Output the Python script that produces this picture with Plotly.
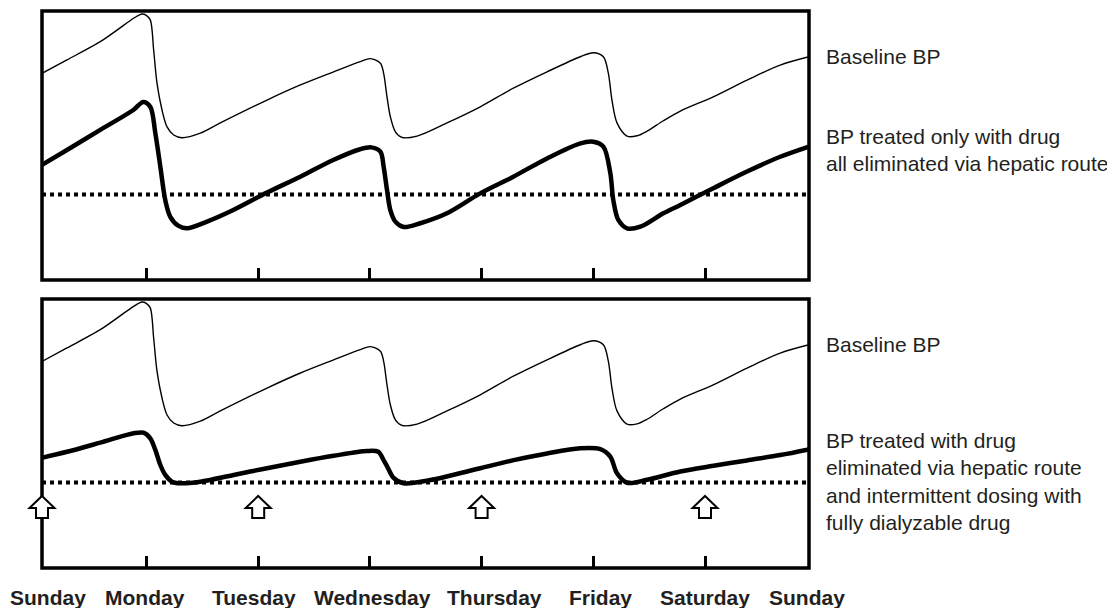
import plotly.graph_objects as go

# ---------------- data ----------------
# x in days: 1 = Monday ... 6 = Saturday; window starts/ends on Sunday
X_START = 0.0645
X_END = 6.931

# Baseline BP (same curve in both panels)
base_x = [0.0645, 0.288, 0.586, 0.736, 0.885, 0.960, 0.998, 1.034, 1.064, 1.094,
          1.139, 1.184, 1.243, 1.318, 1.482, 1.661, 2.079, 2.378, 2.675, 2.914,
          3.004, 3.094, 3.123, 3.153, 3.183, 3.228, 3.287, 3.422, 3.690, 3.988,
          4.284, 4.586, 4.884, 5.000, 5.090, 5.134, 5.167, 5.212, 5.302, 5.391,
          5.481, 5.627, 5.779, 6.074, 6.376, 6.673, 6.931]
base_y = [76.8, 81.8, 88.6, 92.9, 97.3, 98.9, 98.4, 96.7, 85.5, 73.2,
          63.2, 56.9, 53.9, 52.9, 54.6, 58.4, 66.9, 72.5, 77.4, 81.2,
          82.3, 80.6, 76.8, 68.1, 60.7, 55.1, 53.0, 53.5, 58.4, 64.4,
          71.3, 77.4, 83.0, 84.5, 83.0, 77.0, 66.9, 58.4, 53.5, 53.6,
          55.3, 59.2, 62.8, 68.1, 74.3, 79.9, 83.0]

# BP treated only with hepatically eliminated drug (top panel)
hep_x = [0.0645, 0.288, 0.586, 0.882, 0.971, 1.034, 1.079, 1.124, 1.168, 1.213,
         1.287, 1.363, 1.542, 1.777, 2.079, 2.377, 2.672, 2.912, 3.013, 3.094,
         3.123, 3.153, 3.183, 3.228, 3.302, 3.451, 3.690, 3.988, 4.284, 4.586,
         4.884, 5.000, 5.090, 5.152, 5.179, 5.224, 5.302, 5.421, 5.627, 5.779,
         6.074, 6.376, 6.673, 6.931]
hep_y = [42.8, 48.3, 55.8, 63.2, 66.2, 64.4, 54.6, 42.1, 29.7, 23.5,
         20.1, 19.2, 21.7, 26.0, 32.5, 38.4, 44.6, 48.6, 49.3, 47.7,
         42.1, 33.5, 26.0, 21.7, 19.7, 21.1, 24.8, 32.2, 38.4, 45.2,
         50.8, 51.4, 49.6, 39.8, 29.7, 22.3, 19.2, 19.8, 24.8, 27.9,
         34.1, 40.3, 45.8, 49.6]

# BP treated with hepatic drug + intermittent dialyzable drug (bottom panel)
dial_x = [0.0645, 0.288, 0.586, 0.885, 0.974, 1.034, 1.079, 1.124, 1.168, 1.228,
          1.303, 1.482, 1.780, 2.079, 2.377, 2.675, 2.974, 3.075, 3.123, 3.153,
          3.212, 3.302, 3.541, 3.988, 4.287, 4.586, 4.884, 5.063, 5.152, 5.212,
          5.302, 5.481, 5.779, 6.077, 6.376, 6.673, 6.931]
dial_y = [41.0, 43.2, 46.6, 50.1, 50.3, 48.2, 43.9, 38.3, 34.6, 32.1,
          31.5, 32.1, 34.6, 37.1, 39.5, 41.7, 43.5, 43.2, 40.1, 37.9,
          33.5, 31.5, 32.7, 37.1, 40.1, 42.6, 44.5, 44.2, 41.4, 35.2,
          31.7, 32.8, 35.9, 38.0, 40.0, 42.0, 44.1]

TARGET_BP = 31.8

# dosing of the dialyzable drug (Sunday at window start, Tue, Thu, Sat)
dose_days = [X_START, 2.0, 4.0, 6.0]

tick_days = [1, 2, 3, 4, 5, 6]
day_labels = ["Sunday", "Monday", "Tuesday", "Wednesday", "Thursday",
              "Friday", "Saturday", "Sunday"]
day_label_pos = [0.122, 0.985, 1.963, 3.027, 4.113, 5.066, 6.004, 6.91]

right_labels_top = ["Baseline BP",
                    "BP treated only with drug<br>all eliminated via hepatic route"]
right_labels_bottom = ["Baseline BP",
                       "BP treated with drug<br>eliminated via hepatic route<br>"
                       "and intermittent dosing with<br>fully dialyzable drug"]

# ---------------- figure ----------------
INK = "#000000"
TEXT = "#231f20"
FONT = "Liberation Sans, Arial, sans-serif"

fig = go.Figure()


def add_panel(xaxis, yaxis, treated_x, treated_y):
    fig.add_trace(go.Scatter(x=base_x, y=base_y, xaxis=xaxis, yaxis=yaxis,
                             mode="lines", line=dict(color=INK, width=1.4,
                                                     shape="spline", smoothing=0.9),
                             hoverinfo="skip", showlegend=False))
    fig.add_trace(go.Scatter(x=treated_x, y=treated_y, xaxis=xaxis, yaxis=yaxis,
                             mode="lines", line=dict(color=INK, width=4.5,
                                                     shape="spline", smoothing=0.9),
                             hoverinfo="skip", showlegend=False))
    fig.add_trace(go.Scatter(x=[X_START, X_END], y=[TARGET_BP, TARGET_BP],
                             xaxis=xaxis, yaxis=yaxis, mode="lines",
                             line=dict(color=INK, width=4, dash="dot"),
                             hoverinfo="skip", showlegend=False))


add_panel("x", "y", hep_x, hep_y)
add_panel("x2", "y2", dial_x, dial_y)

axis_common = dict(range=[X_START, X_END], showgrid=False, zeroline=False,
                   showline=False, ticks="inside", ticklen=12, tickwidth=3,
                   tickcolor=INK, tickvals=tick_days, showticklabels=False)
yaxis_common = dict(range=[0, 100], showgrid=False, zeroline=False,
                    showline=False, showticklabels=False, ticks="")

fig.update_layout(
    width=1107, height=600,
    margin=dict(l=34, r=306, t=3, b=40),
    paper_bgcolor="white", plot_bgcolor="white",
    xaxis=dict(anchor="y", domain=[0, 1], **axis_common),
    xaxis2=dict(anchor="y2", domain=[0, 1], **axis_common),
    yaxis=dict(anchor="x", domain=[0.5171, 1], **yaxis_common),
    yaxis2=dict(anchor="x2", domain=[0, 0.4829], **yaxis_common),
)

shapes = []
# panel frames
for xr, yr in [("x domain", "y domain"), ("x2 domain", "y2 domain")]:
    shapes.append(dict(type="rect", xref=xr, yref=yr, x0=0, x1=1, y0=0, y1=1,
                       line=dict(color=INK, width=3.5), fillcolor="rgba(0,0,0,0)",
                       layer="above"))
# hollow dose arrows (shape in pixels, anchored at each dose day on the x axis)
arrow_path = "M0,0 L12.5,-12 L6,-12 L6,-22 L-6,-22 L-6,-12 L-12.5,-12 Z"
for d in dose_days:
    frac = (d - X_START) / (X_END - X_START)  # position along the axis range
    shapes.append(dict(type="path", xref="x2 domain", yref="y2 domain",
                       xsizemode="pixel", ysizemode="pixel",
                       xanchor=frac, yanchor=0.268, path=arrow_path,
                       line=dict(color=INK, width=2), fillcolor="white",
                       layer="above"))
fig.update_layout(shapes=shapes)

annotations = []
for lab, pos in zip(day_labels, day_label_pos):
    annotations.append(dict(text=lab, x=pos, xref="x2", y=-0.053, yref="paper",
                            xanchor="center", yanchor="middle", showarrow=False,
                            font=dict(family=FONT, size=21, color=TEXT,
                                      weight="bold")))
for txt, yy in zip(right_labels_top + right_labels_bottom,
                   [0.918, 0.7504, 0.4004, 0.1553]):
    annotations.append(dict(text=txt, x=1, xref="paper", xshift=15,
                            y=yy, yref="paper", xanchor="left", yanchor="middle",
                            align="left", showarrow=False,
                            font=dict(family=FONT, size=21, color=TEXT)))
fig.update_layout(annotations=annotations)

fig.write_html("out.html")
